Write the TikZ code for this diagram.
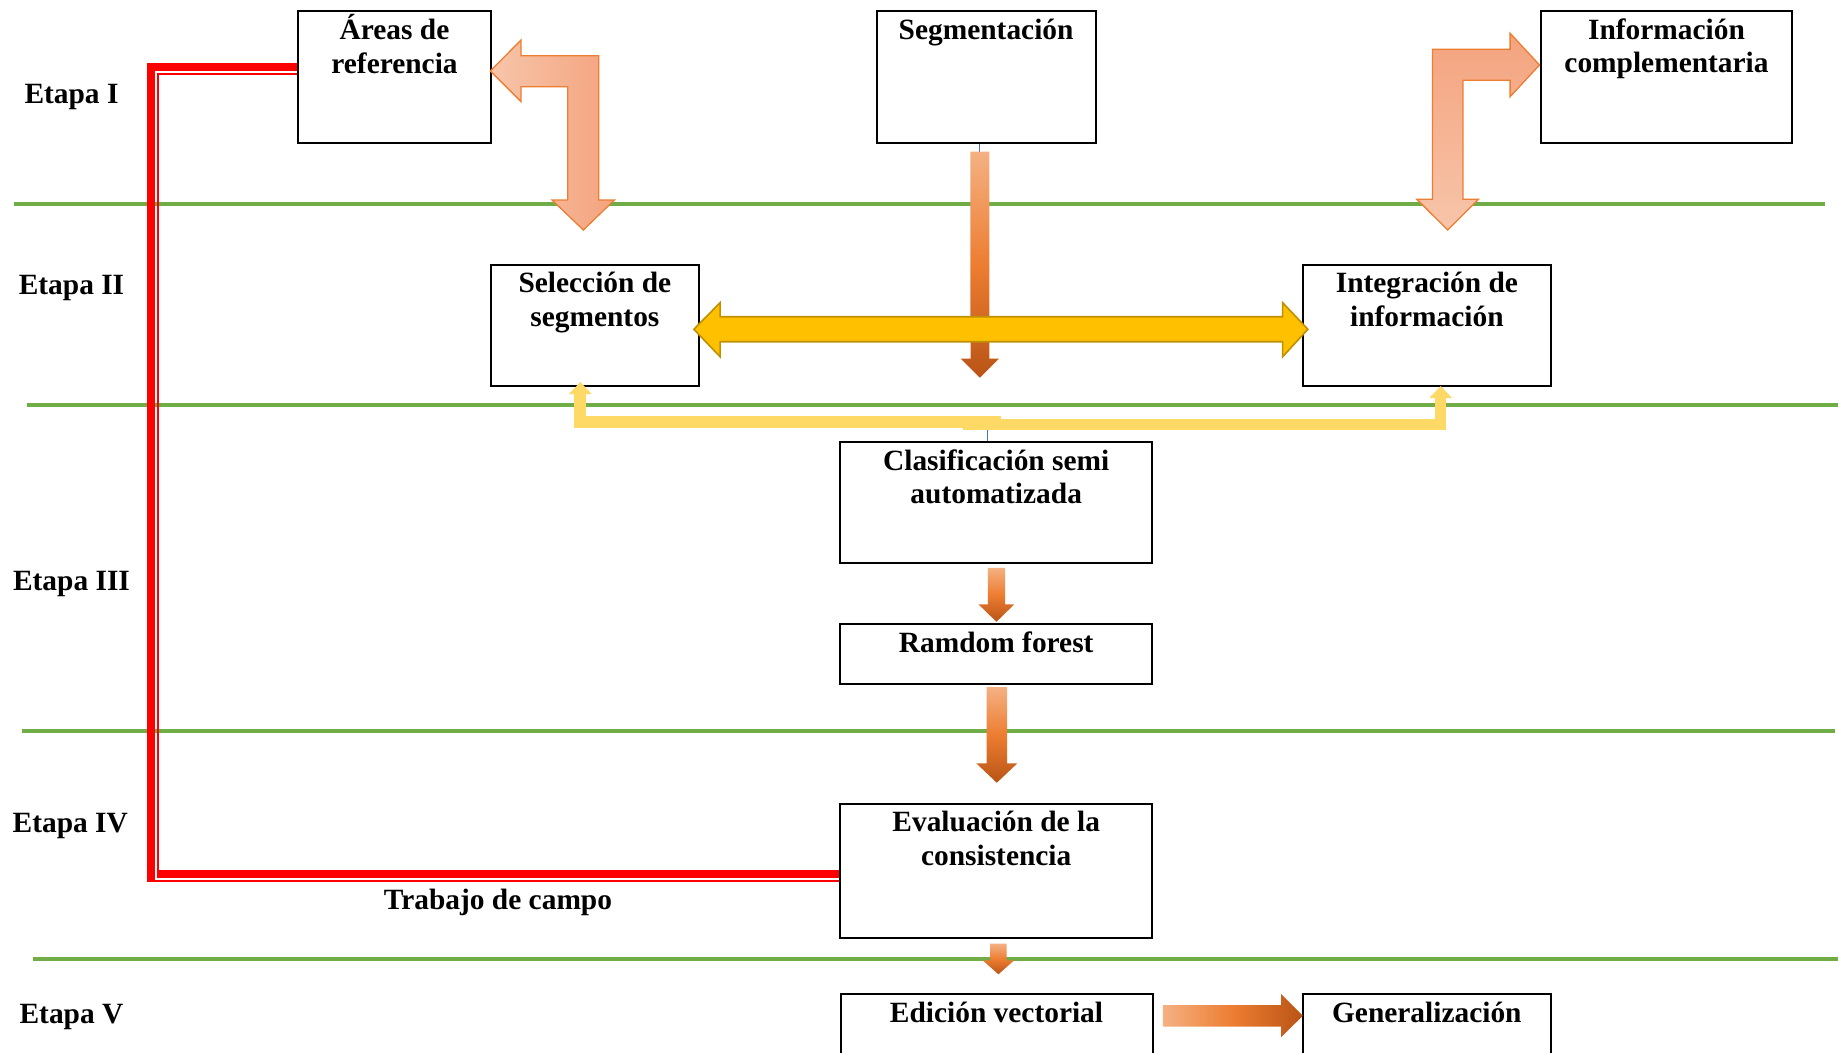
\documentclass[tikz,border=0pt]{standalone}
\usepackage{fontspec}
\setmainfont{Liberation Serif}
\usetikzlibrary{calc,arrows.meta}

\definecolor{stageGreen}{RGB}{112,173,71}
\definecolor{fieldRed}{RGB}{255,0,0}
\definecolor{peachLight}{RGB}{247,197,170}
\definecolor{peachDark}{RGB}{244,163,126}
\definecolor{peachLine}{RGB}{237,125,49}
\definecolor{orangeLight}{RGB}{244,177,131}
\definecolor{orangeMid}{RGB}{237,125,49}
\definecolor{orangeDark}{RGB}{185,84,22}
\definecolor{goldFill}{RGB}{255,192,0}
\definecolor{goldLine}{RGB}{191,144,0}
\definecolor{goldLight}{RGB}{255,217,102}
\definecolor{linkBlue}{RGB}{68,114,196}

\tikzset{every picture/.style={line width=0.75pt}}
\tikzset{
  stagebox/.style={draw=black, line width=2pt, rectangle, inner sep=0pt},
  boxtxt/.style={font=\fontsize{29.4}{33.5}\selectfont\bfseries, align=center, anchor=base, inner sep=0pt},
  stagelbl/.style={font=\fontsize{29.4}{33.5}\selectfont\bfseries, anchor=base, inner sep=0pt},
  stageline/.style={draw=stageGreen, line width=4pt},
  redthick/.style={draw=fieldRed, line width=8pt},
  redthin/.style={draw=fieldRed, line width=2pt},
  peacharrowh/.style={draw=peachLine, line width=1.3pt, left color=peachLight, right color=peachDark},
  peacharrowv/.style={draw=peachLine, line width=1.3pt, top color=peachDark, bottom color=peachLight},
  orangedown/.style={top color=orangeLight, bottom color=orangeDark, middle color=orangeMid},
  orangeright/.style={left color=orangeLight, right color=orangeDark, middle color=orangeMid},
  goldarrow/.style={fill=goldFill, draw=goldLine, line width=1.6pt},
  goldlink/.style={draw=goldLight, line width=12pt, -{Triangle[width=22pt,length=12pt]}},
  linkblue/.style={draw=linkBlue, line width=1pt}
}

\begin{document}
\begin{tikzpicture}[x=1pt,y=1pt,yscale=-1,xscale=1]
	\useasboundingbox (0,0) rectangle (1838,1052);
	\clip (0,0) rectangle (1838,1052);

	%Straight Lines [stage separators]
	\draw[stageline] (14,204) -- (1825,204);
	\draw[stageline] (27,405) -- (1838,405);
	\draw[stageline] (22,731) -- (1835,731);
	\draw[stageline] (33,959) -- (1838,959);

	%Shape: Rectangle [boxes]
	\node[stagebox, minimum width=193.5pt, minimum height=132.6pt] (ref) at (394.5,77) {};
	\node[stagebox, minimum width=219.2pt, minimum height=132.6pt] (seg) at (986.1,77) {};
	\node[stagebox, minimum width=251pt, minimum height=132.6pt] (info) at (1666.5,77) {};
	\node[stagebox, minimum width=207.7pt, minimum height=121pt] (sel) at (594.9,325.5) {};
	\node[stagebox, minimum width=247.7pt, minimum height=121pt] (integ) at (1426.9,325.5) {};
	\node[stagebox, minimum width=312.4pt, minimum height=120.7pt] (clas) at (996.2,502.7) {};
	\node[stagebox, minimum width=312.4pt, minimum height=60.3pt] (rf) at (996.2,653.9) {};
	\node[stagebox, minimum width=312.4pt, minimum height=134.6pt] (eval) at (996.2,871) {};
	\node[stagebox, minimum width=312pt, minimum height=140pt] (edic) at (996.5,1063.7) {};
	\node[stagebox, minimum width=248.5pt, minimum height=140pt] (gen) at (1426.8,1063.7) {};

	% Text Node (base = last line)
	\node[boxtxt] (reftxt) at ($(ref.north)+(0,63.3)$) {Áreas de\\referencia};
	% Text Node
	\node[boxtxt] (segtxt) at ($(seg.north)+(0,29.8)$) {Segmentación};
	% Text Node
	\node[boxtxt] (infotxt) at ($(info.north)+(0,62.8)$) {Información\\complementaria};
	% Text Node
	\node[boxtxt] (seltxt) at ($(sel.north)+(0,62.3)$) {Selección de\\segmentos};
	% Text Node
	\node[boxtxt] (integtxt) at ($(integ.north)+(0,62.3)$) {Integración de\\información};
	% Text Node
	\node[boxtxt] (clastxt) at ($(clas.north)+(0,62.3)$) {Clasificación semi\\automatizada};
	% Text Node
	\node[boxtxt] (rftxt) at ($(rf.north)+(0,29.3)$) {Ramdom forest};
	% Text Node
	\node[boxtxt] (evaltxt) at ($(eval.north)+(0,62.6)$) {Evaluación de la\\consistencia};
	% Text Node
	\node[boxtxt] (edictxt) at ($(edic.north)+(0,29.3)$) {Edición vectorial};
	% Text Node
	\node[boxtxt] (gentxt) at ($(gen.north)+(0,29.3)$) {Generalización};

	% Text Node [stages]
	\node[stagelbl] (e1) at (71.5,103.8) {Etapa I};
	\node[stagelbl] (e2) at (71.5,294.5) {Etapa II};
	\node[stagelbl] (e3) at (71.5,590.8) {Etapa III};
	\node[stagelbl] (e4) at (70.3,832.3) {Etapa IV};
	\node[stagelbl] (e5) at (71.5,1023) {Etapa V};
	% Text Node
	\node[stagelbl] (campo) at (498,909.3) {Trabajo de campo};

	%Straight Lines [field work, double red]
	\draw[redthick] ($(ref.west)+(0,-10)$) -| (151,882);
	\draw[redthin] (147,881) -- ($(eval.west)+(0,10)$);
	\draw[redthin] ($(ref.west)+(0,-3.3)$) -| (157.7,870);
	\draw[redthick] (156.7,874) -- ($(eval.west)+(0,3)$);

	%Straight Lines [thin links]
	\draw[linkblue] ($(seg.south)+(-6.6,0)$) -- ++(0,9);
	\draw[linkblue] ($(clas.north)+(-8.5,0)$) -- ++(0,-12.5);

	%Shape: Bent Arrow [ref]
	\path[peacharrowh] ($(ref.east)+(-1.9,-6)$) -- ++(30.7,-31) -- ++(0,15.7) -- ++(77.7,0) -- ++(0,144.3) -- ++(15.6,0) -- ++(-31,30) -- ++(-31.3,-30) -- ++(15.7,0) -- ++(0,-113.3) -- ++(-46.7,0) -- ++(0,15) -- cycle;
	%Shape: Bent Arrow [info]
	\path[peacharrowv] ($(info.west)+(-0.5,-12)$) -- ++(-29.4,-31.7) -- ++(0,16) -- ++(-77.6,0) -- ++(0,150) -- ++(-15.6,0) -- ++(30.8,30.7) -- ++(30.8,-30.7) -- ++(-15.6,0) -- ++(0,-119) -- ++(47.2,0) -- ++(0,16.4) -- cycle;

	%Shape: Down Arrow [seg]
	\path[orangedown] ($(seg.south)+(-15.7,7.4)$) -- ++(18.9,0) -- ++(0,207) -- ++(9.6,0) -- ++(-19,19) -- ++(-19,-19) -- ++(9.6,0) -- cycle;

	%Shape: Left-Right Arrow [sel - integ]
	\path[goldarrow] ($(sel.east)+(-5.9,3.8)$) -- ++(26.2,-26.6) -- ++(0,14) -- ++(562.6,0) -- ++(0,-14) -- ++(25.2,26.6) -- ++(-25.2,27.4) -- ++(0,-15) -- ++(-562.6,0) -- ++(0,15) -- cycle;

	%Connector [gold elbows]
	\coordinate (jl) at (1000.6,422.2);
	\coordinate (jr) at (962.7,424.7);
	\draw[goldlink] (jl) -| ($(sel.south)+(-14.6,-5)$);
	\draw[goldlink, line width=11pt] (jr) -| ($(integ.south)+(13.8,-1)$);

	%Shape: Down Arrow [clas - rf]
	\path[orangedown] ($(clas.south)+(-8.3,3.7)$) -- ++(17.1,0) -- ++(0,36.6) -- ++(9.3,0) -- ++(-17.9,17.4) -- ++(-17.9,-17.4) -- ++(9.3,0) -- cycle;
	%Shape: Down Arrow [rf - eval]
	\path[orangedown] ($(rf.south)+(-9.6,2)$) -- ++(20.4,0) -- ++(0,76.3) -- ++(10.3,0) -- ++(-20.5,19.4) -- ++(-20.5,-19.4) -- ++(10.3,0) -- cycle;
	%Shape: Down Arrow [eval - edic]
	\path[orangedown] ($(eval.south)+(-6.2,4.4)$) -- ++(16.7,0) -- ++(0,16.6) -- ++(7.4,0) -- ++(-15.7,14) -- ++(-15.7,-14) -- ++(7.4,0) -- cycle;
	%Shape: Right Arrow [edic - gen]
	\path[orangeright] ($(edic.north east)+(9.3,12.3)$) -- ++(118.3,0) -- ++(0,-11) -- ++(21.7,21.7) -- ++(-21.7,21.6) -- ++(0,-10.6) -- ++(-118.3,0) -- cycle;

\end{tikzpicture}
\end{document}
